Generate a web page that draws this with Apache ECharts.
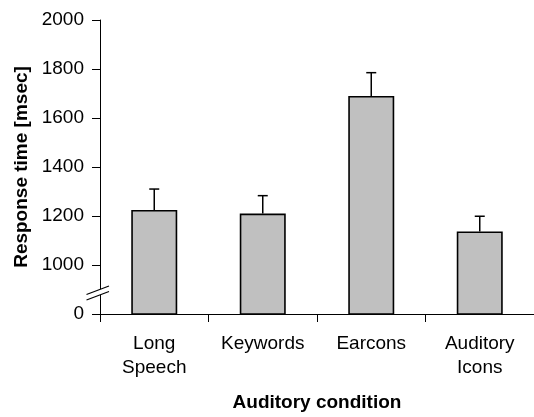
<!DOCTYPE html>
<html>
<head>
<meta charset="utf-8">
<script src="https://cdn.jsdelivr.net/npm/echarts@6/dist/echarts.min.js"></script>
<style>
  html, body { margin: 0; padding: 0; background: #fff; }
  #chart { width: 534px; height: 417px; }
</style>
</head>
<body>
<div id="chart"></div>
<script>
// ---- data ----
const categories = ['Long\nSpeech', 'Keywords', 'Earcons', 'Auditory\nIcons'];
const meanResponse = [1225, 1210, 1690, 1137];
const errorTop = [1310, 1283, 1785, 1199];
const yTickValues = [800, 1000, 1200, 1400, 1600, 1800, 2000];
const yTickLabels = ['0', '1000', '1200', '1400', '1600', '1800', '2000'];
const yAxisTitle = 'Response time [msec]';
const xAxisTitle = 'Auditory condition';

const FONT = "'Liberation Sans', Arial, sans-serif";
const chart = echarts.init(document.getElementById('chart'), null, { renderer: 'canvas' });

const option = {
  backgroundColor: '#ffffff',
  animation: false,
  grid: { left: 100, top: 20, bottom: 98, width: 442, containLabel: false },
  xAxis: {
    type: 'category',
    data: categories,
    name: xAxisTitle,
    nameLocation: 'middle',
    nameGap: 79,
    nameTextStyle: { fontFamily: FONT, fontSize: 19, fontWeight: 'bold', color: '#000' },
    axisLine: { lineStyle: { color: '#000', width: 1 } },
    axisTick: { show: true, length: 8, inside: false, lineStyle: { color: '#000' } },
    axisLabel: { fontFamily: FONT, fontSize: 19, color: '#000', margin: 18, lineHeight: 24 },
    splitLine: { show: false }
  },
  yAxis: {
    type: 'value',
    min: yTickValues[0],
    max: yTickValues[yTickValues.length - 1],
    interval: 200,
    name: yAxisTitle,
    nameLocation: 'middle',
    nameGap: 67,
    nameRotate: 90,
    nameTextStyle: { fontFamily: FONT, fontSize: 19, fontWeight: 'bold', color: '#000' },
    axisLine: { show: true, lineStyle: { color: '#000', width: 1 } },
    axisTick: { show: true, length: 8, inside: false, lineStyle: { color: '#000' } },
    axisLabel: {
      fontFamily: FONT, fontSize: 19, color: '#000', margin: 16,
      formatter: function (v) {
        const i = yTickValues.indexOf(v);
        return i >= 0 ? yTickLabels[i] : '';
      }
    },
    splitLine: { show: false }
  },
  series: [
    {
      type: 'bar',
      data: meanResponse,
      barWidth: 46,
      clip: true,
      itemStyle: { color: '#c0c0c0', borderColor: '#000', borderWidth: 1.6 },
      z: 2
    },
    {
      type: 'custom',
      data: meanResponse.map((m, i) => [i, m, errorTop[i]]),
      z: 3,
      renderItem: function (params, api) {
        const i = api.value(0);
        const base = api.coord([i, api.value(1)]);
        const top = api.coord([i, api.value(2)]);
        const half = 5;
        return {
          type: 'group',
          children: [
            { type: 'line', shape: { x1: base[0], y1: base[1], x2: top[0], y2: top[1] },
              style: { stroke: '#000', lineWidth: 1.5 } },
            { type: 'line', shape: { x1: top[0] - half, y1: top[1], x2: top[0] + half, y2: top[1] },
              style: { stroke: '#000', lineWidth: 1.5 } }
          ]
        };
      }
    }
  ]
};
chart.setOption(option);

// axis break marks
const p0 = chart.convertToPixel({ gridIndex: 0 }, [0, yTickValues[0]]);
const ax = 100;
const y0 = p0[1];
const up = [[ax - 13.5, y0 - 19.5], [ax + 9, y0 - 28]];
const lo = [[ax - 13.5, y0 - 14], [ax + 9, y0 - 22.5]];
chart.setOption({
  graphic: [
    { type: 'polygon', shape: { points: [up[0], up[1], lo[1], lo[0]] },
      style: { fill: '#fff' }, z: 100 },
    { type: 'line', shape: { x1: up[0][0], y1: up[0][1], x2: up[1][0], y2: up[1][1] },
      style: { stroke: '#000', lineWidth: 1.2 }, z: 101 },
    { type: 'line', shape: { x1: lo[0][0], y1: lo[0][1], x2: lo[1][0], y2: lo[1][1] },
      style: { stroke: '#000', lineWidth: 1.2 }, z: 101 }
  ]
});
</script>
</body>
</html>
